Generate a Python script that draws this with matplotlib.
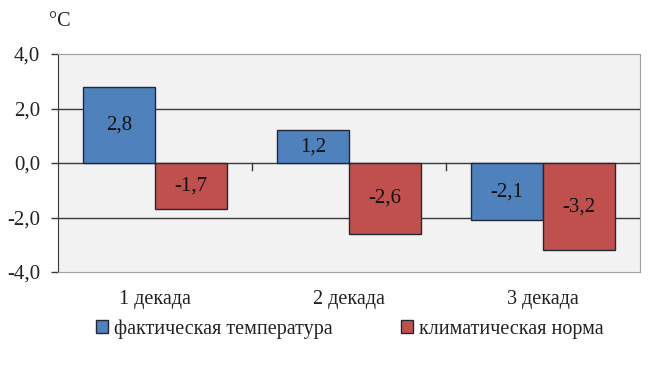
import matplotlib
matplotlib.use("Agg")
import matplotlib.pyplot as plt
import numpy as np

categories = ["1 декада", "2 декада", "3 декада"]
actual = [2.8, 1.2, -2.1]
norm = [-1.7, -2.6, -3.2]
series_names = ["фактическая температура", "климатическая норма"]
yticks = [-4.0, -2.0, 0.0, 2.0, 4.0]

plt.rcParams['font.family'] = ['Liberation Serif', 'DejaVu Serif']

W, H = 649, 384
fig = plt.figure(figsize=(W/100, H/100), dpi=100)
ax = fig.add_axes([58/W, 1-272/H, (640-58)/W, (272-54)/H])
ax.set_facecolor('#f2f2f2')

x = np.arange(len(categories))
bw = 0.371
b1 = ax.bar(x - bw/2, actual, bw, color='#4f81bd', edgecolor='#1f2a36', linewidth=1.0, zorder=3, label=series_names[0])
b2 = ax.bar(x + bw/2, norm, bw, color='#c0504d', edgecolor='#1f2a36', linewidth=1.0, zorder=3, label=series_names[1])

for bars, vals in ((b1, actual), (b2, norm)):
    for r, v in zip(bars, vals):
        ax.text(r.get_x() + r.get_width()/2, v/2, f"{v:.1f}".replace('.', ','),
                ha='center', va='center', fontsize=15, color='#111111', zorder=4)

ax.set_xlim(-0.5, 2.5)
ax.set_ylim(-4, 4)
ax.set_yticks(yticks)
ax.set_yticklabels([f"{t:.1f}".replace('.', ',') for t in yticks], fontsize=15, color='#222222')
for t in [-2, 0, 2]:
    ax.axhline(t, color='#3a3a3a', linewidth=1.0, zorder=2)
ax.tick_params(axis='y', length=5, width=1, color='#3a3a3a', pad=8)
ax.set_xticks([])
for b in [0.5, 1.5]:
    ax.plot([b, b], [0, -0.25], color='#3a3a3a', linewidth=1, zorder=2)
for t in x:
    ax.text(t, -5.0, categories[t], ha='center', va='center', fontsize=14.5, color='#222222')

for s in ['top', 'right', 'bottom']:
    ax.spines[s].set_color('#a0a0a0')
ax.spines['left'].set_color('#3a3a3a')

fig.text(49/W, 1-22/H, "°C", ha='left', va='center', fontsize=14.5, color='#222222')

leg = fig.legend(handles=[b1, b2], labels=series_names, loc='center', bbox_to_anchor=(350/W, 1-329/H),
                 ncol=2, frameon=False, fontsize=14.5, handlelength=0.6, handleheight=0.6,
                 handletextpad=0.3, columnspacing=3.4)
for t in leg.get_texts():
    t.set_color('#222222')

fig.savefig("out.png", dpi=100, facecolor='white')
